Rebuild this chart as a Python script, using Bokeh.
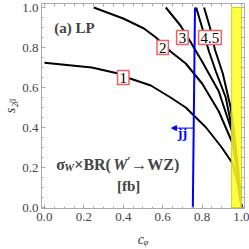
from bokeh.plotting import figure
from bokeh.models import (Range1d, LinearAxis, SingleIntervalTicker, FixedTicker,
                          PrintfTickFormatter, Label, Arrow, NormalHead)
from bokeh.embed import file_html
from bokeh.resources import INLINE

# ---- data ----
curve1_c = [0.0, 0.24, 0.374, 0.434, 0.54, 0.64, 0.717, 0.82, 0.90, 0.955, 0.98, 1.0]
curve1_s = [0.724, 0.70, 0.67, 0.645, 0.61, 0.55, 0.50, 0.40, 0.30, 0.22, 0.12, 0.0]
curve2_c = [0.25, 0.40, 0.505, 0.566, 0.64, 0.717, 0.80, 0.885, 0.955, 0.98, 1.0]
curve2_s = [1.0, 0.945, 0.895, 0.85, 0.78, 0.72, 0.62, 0.48, 0.32, 0.16, 0.0]
curve3_c = [0.616, 0.69, 0.74, 0.80, 0.885, 0.955, 0.98, 1.0]
curve3_s = [1.0, 0.91, 0.83, 0.73, 0.58, 0.37, 0.18, 0.0]
curve4_c = [0.77, 0.80, 0.835, 0.87, 0.92, 0.955, 0.98, 1.0]
curve4_s = [1.0, 0.90, 0.78, 0.68, 0.55, 0.38, 0.18, 0.0]
curve5_c = [0.81, 0.84, 0.865, 0.905, 0.945, 0.96, 0.985, 1.0]
curve5_s = [1.0, 0.90, 0.79, 0.67, 0.50, 0.40, 0.18, 0.0]

contour_labels = ["1", "2", "3", "4.5"]
label_c = [0.40, 0.60, 0.70, 0.84]
label_s = [0.65, 0.80, 0.85, 0.85]

jj_c = [0.753, 0.764]
jj_s = [0.0, 1.0]
arrow_c = [0.755, 0.645]
arrow_s = [0.397, 0.397]

band_c = [0.95, 1.0]
band_s = [0.0, 1.0]

frame_minor_ticks = [0.05 * i for i in range(21)]

SERIF = "Liberation Serif"
FRAME = "#aaaaaa"

p = figure(width=249, height=249, output_backend="svg", toolbar_location=None,
           x_range=Range1d(-0.015, 1.0152), y_range=Range1d(-0.005, 1.02),
           min_border_left=40, min_border_right=5, min_border_top=3, min_border_bottom=0)
p.grid.visible = False
p.outline_line_color = FRAME
p.background_fill_color = "white"
p.border_fill_color = "white"


def style(ax):
    ax.axis_line_color = FRAME
    ax.major_tick_line_color = FRAME
    ax.minor_tick_line_color = FRAME
    ax.major_tick_in = 4
    ax.major_tick_out = 0
    ax.minor_tick_in = 2
    ax.minor_tick_out = 0
    ax.major_label_text_font = SERIF
    ax.major_label_text_font_size = "13px"
    ax.major_label_text_color = "#444444"
    ax.axis_label_text_font = SERIF
    ax.axis_label_text_font_style = "italic"
    ax.axis_label_text_font_size = "14px"
    ax.axis_label_text_color = "#333333"


for ax in (p.xaxis[0], p.yaxis[0]):
    style(ax)
    ax.ticker = SingleIntervalTicker(interval=0.2, num_minor_ticks=4)
    ax.formatter = PrintfTickFormatter(format="%.1f")

p.xaxis[0].major_label_standoff = 4
p.xaxis[0].axis_label = "cᵩ"
p.xaxis[0].axis_label_standoff = 8
p.yaxis[0].major_label_standoff = 3
p.yaxis[0].axis_label = "s₂ᵦ"
p.yaxis[0].axis_label_standoff = 1

for loc in ("above", "right"):
    ax = LinearAxis(ticker=FixedTicker(ticks=[], minor_ticks=frame_minor_ticks))
    style(ax)
    ax.minor_tick_in = 3
    ax.major_label_standoff = 0
    ax.axis_label_standoff = 0
    p.add_layout(ax, loc)

# contours
for cc, ss in [(curve1_c, curve1_s), (curve2_c, curve2_s), (curve3_c, curve3_s),
               (curve4_c, curve4_s), (curve5_c, curve5_s)]:
    p.line(cc, ss, line_color="black", line_width=2)

# excluded band
p.quad(left=[band_c[0]], right=[band_c[1]], bottom=[band_s[0]], top=[band_s[1]],
       fill_color="#ffff22", fill_alpha=0.85, line_color="#d6d600", line_width=1)

# dijet bound
p.line(jj_c, jj_s, line_color="blue", line_width=2)
p.add_layout(Arrow(end=NormalHead(size=5, fill_color="blue", line_color="blue"),
                   x_start=arrow_c[0], y_start=arrow_s[0], x_end=arrow_c[1], y_end=arrow_s[1],
                   line_color="blue", line_width=1))
p.add_layout(Label(x=0.70, y=0.372, text="jj", text_align="center", text_baseline="middle",
                   text_font=SERIF, text_font_style="bold", text_font_size="14px",
                   text_color="blue"))

# contour labels
for t, cx, sy in zip(contour_labels, label_c, label_s):
    p.add_layout(Label(x=cx, y=sy, text=t, text_align="center", text_baseline="middle",
                       text_font=SERIF, text_font_size="15px", text_color="black",
                       background_fill_color="white", border_line_color="#f06060",
                       border_line_width=1.5, padding=2))

# panel title
p.add_layout(Label(x=0.05, y=0.90, text="(a) LP", text_baseline="middle",
                   text_font=SERIF, text_font_style="bold", text_font_size="15px"))

# sigma x BR text built from pieces
bx, by = 0.06, 0.216
pieces = [
    ("σ", 0, 0, "bold", "16px"),
    ("W", 8, -3, "bold italic", "11px"),
    ("×BR(", 18, 0, "bold", "16px"),
    ("W", 57, 0, "bold italic", "16px"),
    ("′", 71, 3, "bold", "12px"),
    ("→WZ)", 75, 0, "bold", "16px"),
]
for t, dx, dy, st, sz in pieces:
    p.add_layout(Label(x=bx, y=by, x_offset=dx, y_offset=dy, text=t, text_baseline="alphabetic",
                       text_font=SERIF, text_font_style=st, text_font_size=sz))
p.add_layout(Label(x=0.427, y=0.11, text="[fb]", text_align="center", text_baseline="alphabetic",
                   text_font=SERIF, text_font_style="bold", text_font_size="15px"))

open("out.html", "w").write(file_html(p, INLINE))
